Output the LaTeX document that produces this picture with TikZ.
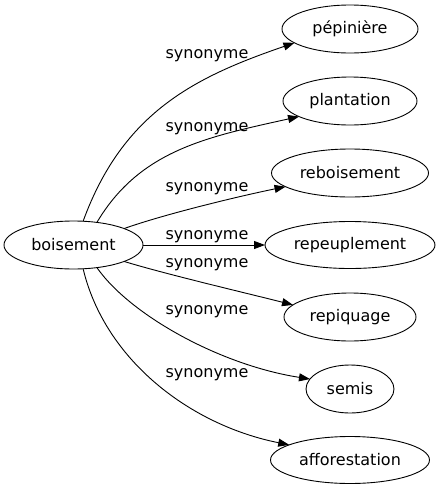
\documentclass[tikz,border=0pt]{standalone}
\usepackage{fontspec}
\setmainfont{DejaVu Sans}
\usetikzlibrary{arrows.meta,shapes.geometric}
\begin{document}
\begin{tikzpicture}[x=1pt,y=-1pt,
  every node/.style={font=\fontsize{16}{19}\selectfont},
  term/.style={draw,ellipse,line width=0.9pt,inner sep=0pt,outer sep=0pt},
  rel/.style={anchor=base,inner sep=0pt},
  link/.style={line width=0.9pt,-{Triangle[length=11pt,width=8pt]}}]
\useasboundingbox (0,0) rectangle (440,491);
\node[term,minimum width=139pt,minimum height=48pt] (b) at (73.5,245) {boisement};
\node[term,minimum width=136pt,minimum height=48pt] (n1) at (350,29) {pépinière};
\node[term,minimum width=134pt,minimum height=48pt] (n2) at (350,101) {plantation};
\node[term,minimum width=157pt,minimum height=48pt] (n3) at (350,173) {reboisement};
\node[term,minimum width=170pt,minimum height=47pt] (n4) at (350,245) {repeuplement};
\node[term,minimum width=132pt,minimum height=48pt] (n5) at (350,317) {repiquage};
\node[term,minimum width=88pt,minimum height=48pt] (n6) at (350,389) {semis};
\node[term,minimum width=159pt,minimum height=47pt] (n7) at (350,460) {afforestation};
\node[rel] (l1) at (207,58.5) {synonyme};
\node[rel] (l2) at (207,131.5) {synonyme};
\node[rel] (l3) at (207,191.5) {synonyme};
\node[rel] (l4) at (207,239) {synonyme};
\node[rel] (l5) at (207,267) {synonyme};
\node[rel] (l6) at (207,314.5) {synonyme};
\node[rel] (l7) at (207,377.5) {synonyme};
\draw[link] (b.68) .. controls (123,112) and (195,77) .. (n1.194);
\draw[link] (b.44) .. controls (140,150) and (207,137) .. (n2.197);
\draw[link] (b.18) .. controls (165,214) and (240,196) .. (n3.192);
\draw[link] (b.0) -- (n4.180);
\draw[link] (b.-18) .. controls (165,274) and (250,294) .. (n5.168);
\draw[link] (b.-44) .. controls (130,315) and (220,365) .. (n6.166);
\draw[link] (b.-68) .. controls (105,360) and (190,425) .. (n7.166);
\end{tikzpicture}
\end{document}
